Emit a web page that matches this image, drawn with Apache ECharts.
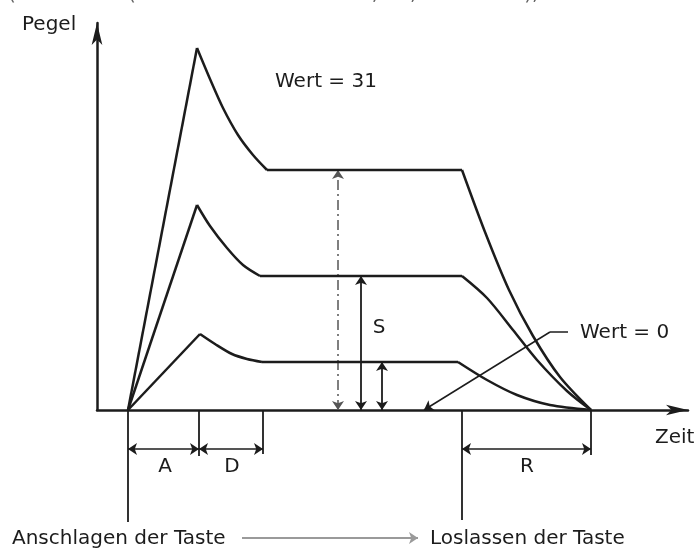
<!DOCTYPE html>
<html>
<head>
<meta charset="utf-8">
<script src="https://cdn.jsdelivr.net/npm/echarts@6/dist/echarts.min.js"></script>
<style>
  html, body { margin: 0; padding: 0; background: #fff; }
  #main { width: 700px; height: 550px; }
</style>
</head>
<body>
<div id="main"></div>
<script>
// Hüllkurve: Punkte [Zeit, Pegel], Zeit 0 = Pegel-Achse, Pegel 0 = Zeit-Achse
const attackStart = [31, 0];

const decayHigh = [[100, 362], [113, 331], [126, 302], [141, 275], [156, 255], [170, 240]];
const decayMid  = [[100, 205], [113, 184], [130, 162], [146, 145], [163, 134]];
const decayLow  = [[103, 76], [118, 66], [135, 56], [150, 51], [165, 48]];

const sustainHigh = [[170, 240], [365, 240]];
const sustainMid  = [[163, 134], [365, 134]];
const sustainLow  = [[165, 48], [361, 48]];

const releaseHigh = [[365, 240], [388, 178], [412, 120], [436, 74], [463, 33], [494, 0]];
const releaseMid  = [[365, 134], [390, 112], [416, 80], [440, 50], [470, 19], [494, 0]];
const releaseLow  = [[361, 48], [390, 30], [420, 15], [453, 5], [494, 0]];

// Bemaßung unter der Zeitachse
const dimLevel = -39;
const dimA = [31, 102];
const dimD = [102, 166];
const dimR = [365, 494];
const extLines = [[31, -112], [102, -46], [166, -44], [365, -110], [494, -45]];

// S-Pfeile: [Zeit, Pegel]
const sustainArrows = [[241, 240], [264, 134], [285, 48]];

// Hinweislinie "Wert = 0" und Pfeil unten
const leaderZero = [[471, 78], [453, 78], [327, 0]];
const keyArrow = [[145, -128], [321, -128]];

const ink = '#1c1c1c';
const font = '"DejaVu Sans"';

const chart = echarts.init(document.getElementById('main'), null, { renderer: 'canvas' });

function curve(points, smooth) {
    return {
        type: 'line', data: points, smooth: smooth, symbol: 'none', clip: false,
        silent: true, animation: false,
        lineStyle: { color: ink, width: 2.5 }
    };
}

function segs(list, symbol, width, dash, color) {
    return {
        type: 'lines', coordinateSystem: 'cartesian2d', clip: false,
        silent: true, animation: false,
        symbol: symbol, symbolSize: 9,
        lineStyle: { color: color || ink, width: width, type: dash || 'solid', opacity: 1 },
        data: list.map(function (c) { return { coords: c }; })
    };
}

const series = [];
[[decayHigh, sustainHigh, releaseHigh], [decayMid, sustainMid, releaseMid], [decayLow, sustainLow, releaseLow]]
    .forEach(function (env) {
        series.push(curve([attackStart, env[0][0]], false));
        series.push(curve(env[0], 0.3));
        series.push(curve(env[1], false));
        series.push(curve(env[2], 0.3));
    });

// Hilfslinien senkrecht
series.push(segs(extLines.map(function (p) { return [[p[0], 0], p]; }), 'none', 1.8));
// Maßpfeile A, D, R
series.push(segs([
    [[dimA[0], dimLevel], [dimA[1], dimLevel]],
    [[dimD[0], dimLevel], [dimD[1], dimLevel]],
    [[dimR[0], dimLevel], [dimR[1], dimLevel]]
], ['arrow', 'arrow'], 1.6));
// S-Pfeile
series.push(segs([[[sustainArrows[0][0], 0], sustainArrows[0]]], ['arrow', 'arrow'], 1.5, [10, 4, 2, 4], '#555'));
series.push(segs(sustainArrows.slice(1).map(function (p) { return [[p[0], 0], p]; }), ['arrow', 'arrow'], 1.8));
// Hinweis "Wert = 0"
series.push(segs([[leaderZero[0], leaderZero[1]]], 'none', 1.5));
series.push(segs([[leaderZero[1], leaderZero[2]]], ['none', 'arrow'], 1.5));
// Anschlagen -> Loslassen
series.push(segs([keyArrow], ['none', 'arrow'], 2, 'solid', '#9a9a9a'));

function label(text, x, y, align) {
    return {
        type: 'text', x: x, y: y, silent: true,
        style: { text: text, fill: ink, font: '20px ' + font, align: align || 'left', verticalAlign: 'middle' }
    };
}

const option = {
    animation: false,
    backgroundColor: '#fff',
    grid: { left: 97, right: 12, top: 23, bottom: 140 },
    xAxis: {
        type: 'value', min: 0, max: 591,
        axisLine: { show: true, onZero: false, symbol: ['none', 'arrow'], symbolSize: [8, 22],
            lineStyle: { color: ink, width: 2.5 } },
        axisTick: { show: false }, axisLabel: { show: false }, splitLine: { show: false }
    },
    yAxis: {
        type: 'value', min: 0, max: 387,
        axisLine: { show: true, onZero: false, symbol: ['none', 'arrow'], symbolSize: [8, 22],
            lineStyle: { color: ink, width: 2.5 } },
        axisTick: { show: false }, axisLabel: { show: false }, splitLine: { show: false }
    },
    graphic: [
        {
            type: 'text', x: 8, y: 5, silent: true,
            style: { text: '(Lautstärke (durch die Parameter 15, 16, 17 und 18),', fill: '#666',
                font: '20px ' + font, verticalAlign: 'bottom' }
        },
        label('Pegel', 22, 25),
        label('Wert = 31', 275, 82),
        label('Wert = 0', 580, 333),
        label('S', 379, 328, 'center'),
        label('A', 165, 467, 'center'),
        label('D', 232, 467, 'center'),
        label('R', 527, 467, 'center'),
        label('Zeit', 655, 438),
        label('Anschlagen der Taste', 12, 539),
        label('Loslassen der Taste', 430, 539)
    ],
    series: series
};

chart.setOption(option);
</script>
</body>
</html>
